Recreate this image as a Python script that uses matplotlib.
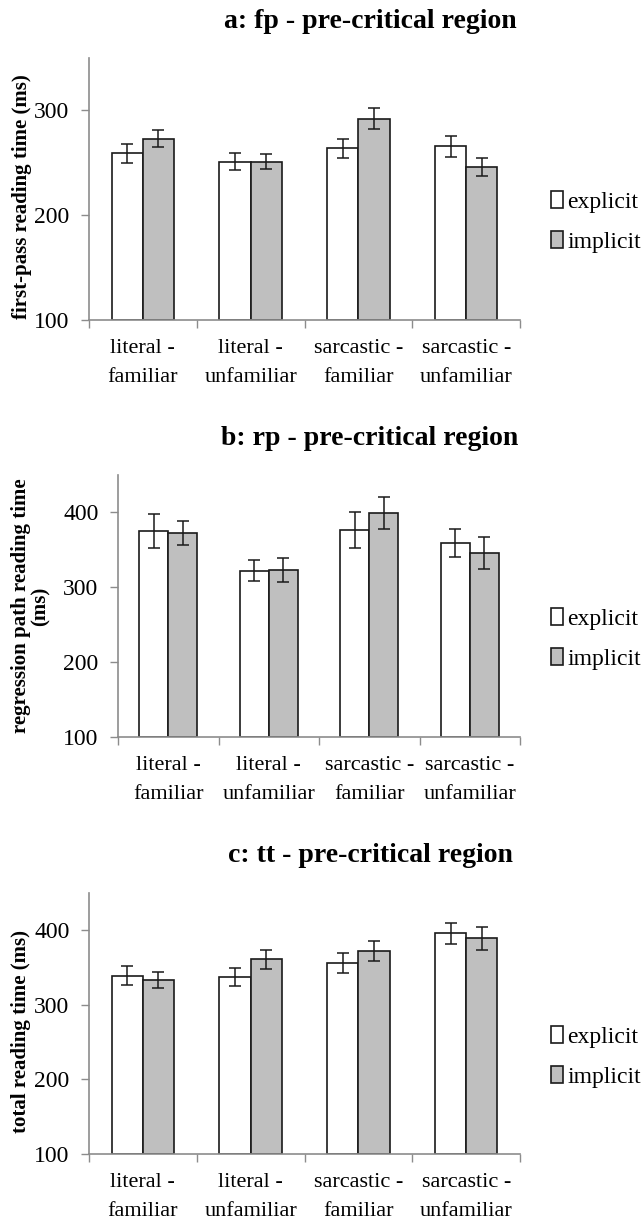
import matplotlib
matplotlib.use("Agg")
import matplotlib.pyplot as plt
import numpy as np

plt.rcParams['font.family'] = ['Liberation Serif', 'DejaVu Serif']

categories = ['literal -\nfamiliar', 'literal -\nunfamiliar', 'sarcastic -\nfamiliar', 'sarcastic -\nunfamiliar']
series_names = ['explicit', 'implicit']

# panel a: first-pass
fp_explicit = [259, 251, 264, 266]
fp_implicit = [273, 251, 292, 246]
fp_explicit_err = [9, 8, 9, 10]
fp_implicit_err = [8, 7, 10, 9]

# panel b: regression path
rp_explicit = [375, 322, 377, 359]
rp_implicit = [373, 323, 399, 346]
rp_explicit_err = [23, 14, 24, 19]
rp_implicit_err = [16, 16, 21, 21]

# panel c: total time
tt_explicit = [339, 337, 356, 396]
tt_implicit = [333, 361, 372, 389]
tt_explicit_err = [13, 12, 13, 14]
tt_implicit_err = [11, 13, 13, 16]

panels = [
    ('a: fp - pre-critical region', 'first-pass reading time (ms)',
     fp_explicit, fp_implicit, fp_explicit_err, fp_implicit_err, 350, [100, 200, 300]),
    ('b: rp - pre-critical region', 'regression path reading time\n(ms)',
     rp_explicit, rp_implicit, rp_explicit_err, rp_implicit_err, 450, [100, 200, 300, 400]),
    ('c: tt - pre-critical region', 'total reading time (ms)',
     tt_explicit, tt_implicit, tt_explicit_err, tt_implicit_err, 450, [100, 200, 300, 400]),
]

W, H = 642, 1224
fig = plt.figure(figsize=(W / 100, H / 100), dpi=100)

# axes boxes in pixels: left, right, top, bottom
boxes = [(89, 520, 58, 320), (118, 520, 475, 737), (89, 520, 893, 1154)]
title_y = [22, 438, 855]
legend_y = [222, 639, 1057]
label_x = [32, 51, 31]       # right edge of the rotated y label
label_y = [0.47, 0.5, 0.47]  # vertical centre of the y label (axes fraction)

AXIS_GREY = '#8c8c8c'
BAR_GREY = '#bfbfbf'
EDGE = '#1a1a1a'
width = 0.29

for (title, ylabel, exp, imp, exp_e, imp_e, ytop, yticks), (l, r, t, b), ty, ly, lx, lyy in zip(
        panels, boxes, title_y, legend_y, label_x, label_y):
    ax = fig.add_axes([l / W, 1 - b / H, (r - l) / W, (b - t) / H])
    x = np.arange(len(categories))
    ax.bar(x - width / 2, np.array(exp) - 100, width, bottom=100, color='white',
           edgecolor=EDGE, linewidth=1.2, label=series_names[0], zorder=2)
    ax.bar(x + width / 2, np.array(imp) - 100, width, bottom=100, color=BAR_GREY,
           edgecolor=EDGE, linewidth=1.2, label=series_names[1], zorder=2)
    ax.errorbar(x - width / 2, exp, yerr=exp_e, fmt='none', ecolor=EDGE,
                elinewidth=1.1, capsize=4, capthick=1.1, zorder=3)
    ax.errorbar(x + width / 2, imp, yerr=imp_e, fmt='none', ecolor=EDGE,
                elinewidth=1.1, capsize=4, capthick=1.1, zorder=3)

    ax.set_xlim(-0.5, len(categories) - 0.5)
    ax.set_ylim(100, ytop)
    ax.set_yticks(yticks)
    ax.set_yticklabels([str(v) for v in yticks], fontsize=17)
    ax.set_xticks(np.arange(len(categories) + 1) - 0.5)
    ax.set_xticklabels([])
    ax.set_xticks(x, minor=True)
    ax.set_xticklabels(categories, minor=True, fontsize=16, linespacing=1.65)
    ax.tick_params(axis='x', which='major', length=6, color=AXIS_GREY, width=1)
    ax.tick_params(axis='x', which='minor', length=0, pad=14)
    ax.tick_params(axis='y', length=6, color=AXIS_GREY, width=1, pad=8)

    for s in ['top', 'right']:
        ax.spines[s].set_visible(False)
    for s in ['left', 'bottom']:
        ax.spines[s].set_color(AXIS_GREY)
        ax.spines[s].set_linewidth(1.2)

    ax.set_ylabel(ylabel, fontsize=15, fontweight='bold', linespacing=1.0)
    ax.yaxis.set_label_coords((lx - l) / (r - l), lyy)
    fig.text(370 / W, 1 - ty / H, title, ha='center', va='center',
             fontsize=20, fontweight='bold')

    ax.legend(loc='center left', bbox_to_anchor=(551 / W, 1 - ly / H),
              bbox_transform=fig.transFigure, frameon=False, fontsize=17,
              handlelength=0.5, handleheight=0.7, handletextpad=0.2,
              labelspacing=0.8, borderaxespad=0, borderpad=0)

fig.savefig('out.png', dpi=100)
